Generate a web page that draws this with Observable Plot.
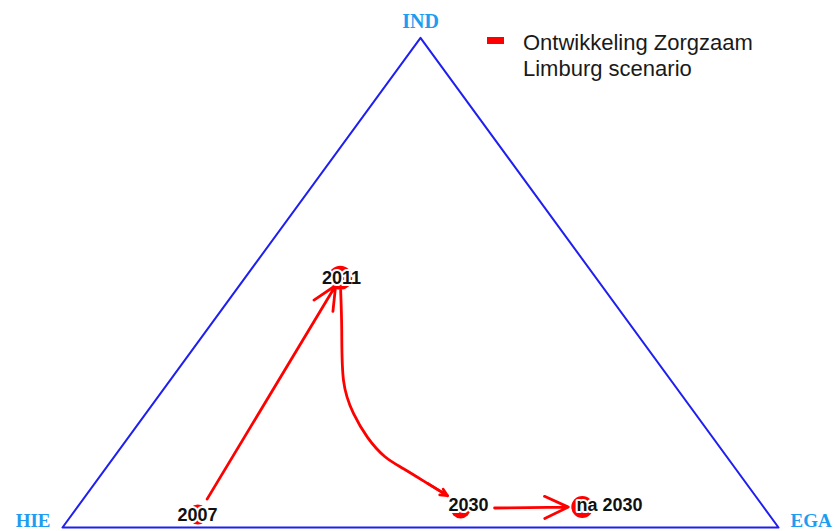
<!DOCTYPE html>
<html>
<head>
<meta charset="utf-8">
<script src="https://cdn.jsdelivr.net/npm/d3@7"></script>
<script src="https://cdn.jsdelivr.net/npm/@observablehq/plot@0.6"></script>
<style>
  html, body { margin: 0; padding: 0; background: #fff; }
  #wrap { position: relative; width: 835px; height: 531px; overflow: hidden; }
  #legend { position: absolute; left: 487px; top: 30px; font-family: "Liberation Sans", Arial, sans-serif; font-size: 22px; line-height: 26px; color: #1a1a1a; }
  #legend .sw { position: absolute; left: 0; top: 7px; width: 17px; height: 7px; background: #ff0000; }
  #legend .tx { margin-left: 36px; }
</style>
</head>
<body>
<div id="wrap">
  <div id="chart"></div>
  <div id="legend"><span class="sw"></span><div class="tx">Ontwikkeling Zorgzaam<br>Limburg scenario</div></div>
</div>
<script>
// Triangle vertices (x: 0 = HIE .. 100 = EGA, y: 0 = base .. 100 = IND apex)
const vertexNames = ["HIE", "IND", "EGA"];
const vertexX = [0, 50, 100];
const vertexY = [0, 100, 0];

// Scenario positions over time
const years = ["2007", "2011", "2030", "na 2030"];
const pointX = [18.9, 38.8, 55.6, 72.6];
const pointY = [2.65, 51.0, 3.9, 4.2];
const labelX = [18.85, 38.97, 56.7, 76.4];
const labelY = [2.6, 50.8, 4.45, 4.45];

// Curved path 2011 -> 2030
const curveX = [38.85, 39.0, 39.25, 40.64, 42.6, 45.0, 47.63, 50.98, 53.77];
const curveY = [48.4, 40.2, 30.0, 23.3, 18.4, 14.5, 12.0, 9.0, 6.5];

const tri = [0, 1, 2, 0].map(i => ({x: vertexX[i], y: vertexY[i]}));
const radii = [10, 12, 10, 11];
const pts = years.map((n, i) => ({name: n, x: pointX[i], y: pointY[i], lx: labelX[i], ly: labelY[i], r: radii[i]}));
const curve = curveX.map((x, i) => ({x, y: curveY[i]}));
const verts = vertexNames.map((n, i) => ({name: n, x: vertexX[i], y: vertexY[i]}));
const seg1 = [{x1: pts[0].x, y1: pts[0].y, x2: pts[1].x, y2: pts[1].y}];
const seg2 = [{x1: pts[2].x, y1: pts[2].y, x2: pts[3].x, y2: pts[3].y}];
const n = curve.length;
const segEnd = [{x1: curve[n - 2].x, y1: curve[n - 2].y, x2: curve[n - 1].x, y2: curve[n - 1].y}];

const red = "#ff0000";
const vfont = "Liberation Serif, serif";

const chart = Plot.plot({
  width: 835,
  height: 531,
  margin: 0,
  x: {domain: [0, 100], range: [62, 778], axis: null},
  y: {domain: [0, 100], range: [527, 37.3], axis: null},
  r: {type: "identity"},
  style: {background: "white"},
  marks: [
    Plot.line(tri, {x: "x", y: "y", stroke: "#1f1ff0", strokeWidth: 2}),
    Plot.dot(pts, {x: "x", y: "y", r: "r", fill: red, stroke: "none"}),
    Plot.arrow(seg1, {x1: "x1", y1: "y1", x2: "x2", y2: "y2", stroke: red, strokeWidth: 2.8, insetStart: 18, insetEnd: 9, headLength: 14, headAngle: 50}),
    Plot.arrow(seg2, {x1: "x1", y1: "y1", x2: "x2", y2: "y2", stroke: red, strokeWidth: 2.8, insetStart: 34, insetEnd: 14, headLength: 14, headAngle: 50}),
    Plot.line(curve, {x: "x", y: "y", curve: "natural", stroke: red, strokeWidth: 2.8}),
    Plot.arrow(segEnd, {x1: "x1", y1: "y1", x2: "x2", y2: "y2", stroke: red, strokeWidth: 2.8, headLength: 14, headAngle: 50}),
    Plot.text(pts, {x: "lx", y: "ly", text: "name", fontSize: 18, fontWeight: "bold", fontFamily: "Liberation Sans, Arial, sans-serif", fill: "#111", stroke: "white", strokeWidth: 4}),
    Plot.text(verts.filter(d => d.name === "IND"), {x: "x", y: "y", text: "name", dy: -16.7, fontSize: 20, fontWeight: "bold", fontFamily: vfont, fill: "#1e9cf0"}),
    Plot.text(verts.filter(d => d.name === "HIE"), {x: "x", y: "y", text: "name", dx: -12, dy: -7, textAnchor: "end", fontSize: 19, fontWeight: "bold", fontFamily: vfont, fill: "#1e9cf0"}),
    Plot.text(verts.filter(d => d.name === "EGA"), {x: "x", y: "y", text: "name", dx: 12, dy: -7, textAnchor: "start", fontSize: 19, fontWeight: "bold", fontFamily: vfont, fill: "#1e9cf0"})
  ]
});
document.getElementById("chart").appendChild(chart);
</script>
</body>
</html>
